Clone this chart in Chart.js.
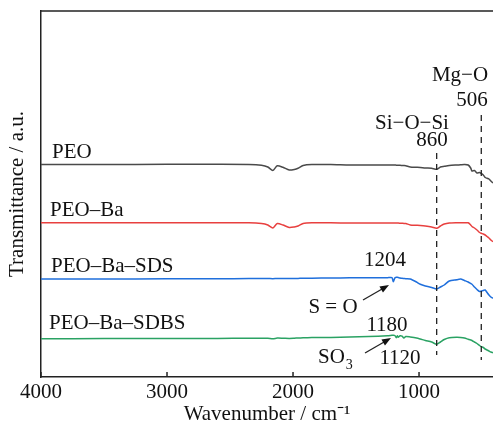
<!DOCTYPE html>
<html>
<head>
<meta charset="utf-8">
<script src="https://cdn.jsdelivr.net/npm/chart.js@4"></script>
<style>
html, body { margin: 0; padding: 0; background: #fff; overflow: hidden; }
</style>
</head>
<body>
<canvas id="ftirChart" width="493" height="426"></canvas>
<script>
// wavenumber grid (cm-1), shared by all four spectra
var wavenumbers = [4000, 3500, 3000, 2600, 2350, 2250, 2200, 2160, 2125, 2080, 2030, 1990, 1960, 1920, 1850, 1700, 1550, 1400, 1250, 1215, 1204, 1192, 1180, 1172, 1165, 1150, 1135, 1120, 1105, 1070, 1020, 990, 950, 900, 860, 830, 800, 760, 700, 670, 640, 610, 590, 580, 560, 540, 520, 506, 490, 475, 460, 445, 430, 413];

// transmittance, arbitrary units (curves are offset from each other)
var peo = [212.5, 212.5, 212.7, 212.7, 212.5, 211.7, 210, 206.5, 211.2, 209.7, 207, 207.5, 208.7, 211.5, 212.5, 212.5, 212, 212, 212, 212, 212, 212, 211.8, 211.8, 211.7, 211.7, 211.5, 211.4, 211.2, 210, 209.7, 209.5, 209, 208.7, 207.7, 210, 210.7, 211.5, 212, 212.2, 212.4, 212, 209, 206, 206.5, 204, 204.5, 203.5, 202, 199.5, 198.7, 198, 196, 194];
var peoBa = [154.3, 154.3, 154.3, 154.3, 154.2, 153.5, 152, 149, 153.5, 152, 149.5, 150, 151, 153.5, 154.2, 154.2, 154, 154, 154, 154, 154, 154, 154, 153.9, 153.9, 153.8, 153.7, 153.6, 153.5, 152, 151.7, 151.5, 151, 150, 148.7, 151, 153, 154, 154.3, 154.3, 154.3, 154.2, 152, 150.5, 149, 147, 144.5, 143.7, 143, 142, 140.5, 139, 137, 135.3];
var peoBaSds = [98, 98, 98.2, 98.3, 98.4, 98.5, 98.5, 98.3, 98.6, 98.5, 98.4, 98.5, 98.6, 98.8, 98.8, 99, 99.2, 99.3, 99.3, 99.3, 95.3, 99, 99.7, 99.7, 99.5, 99, 98.7, 98.5, 98.3, 98, 95, 92.7, 91, 89.5, 88, 90, 92, 96, 97.3, 98, 96.5, 95, 93.5, 92.7, 90, 87.5, 85.5, 86, 86.5, 87, 84.5, 82, 80, 78.7];
var peoBaSdbs = [38.3, 38.4, 38.5, 38.6, 38.8, 38.8, 38.8, 38.3, 38.9, 38.8, 38.6, 38.8, 39, 39.2, 39.4, 39.6, 40, 40.5, 41.3, 41.7, 41.8, 41.5, 39.3, 41.2, 39.8, 41.3, 40.8, 39, 40.5, 40, 39, 38, 36.5, 35, 32.7, 35, 37.5, 39.3, 39.7, 39.5, 39, 37.8, 37, 36.5, 35, 33.5, 31.5, 30.3, 29.5, 28, 27, 26, 25, 24.3];

var seriesNames = ['PEO', 'PEO–Ba', 'PEO–Ba–SDS', 'PEO–Ba–SDBS'];
var xTicks = [4000, 3000, 2000, 1000];
var markedBands = [860, 506];

var seriesData = [peo, peoBa, peoBaSds, peoBaSdbs];
var seriesColors = ['#4a4a4a', '#e8403f', '#1f6fdc', '#2aa263'];
var serif = '"Liberation Serif", "Times New Roman", serif';

function arrow(ctx, x1, y1, x2, y2) {
    var ang = Math.atan2(y2 - y1, x2 - x1);
    ctx.beginPath();
    ctx.moveTo(x1, y1);
    ctx.lineTo(x2 - 6 * Math.cos(ang), y2 - 6 * Math.sin(ang));
    ctx.stroke();
    ctx.beginPath();
    ctx.moveTo(x2, y2);
    ctx.lineTo(x2 - 9 * Math.cos(ang) + 3.5 * Math.sin(ang), y2 - 9 * Math.sin(ang) - 3.5 * Math.cos(ang));
    ctx.lineTo(x2 - 9 * Math.cos(ang) - 3.5 * Math.sin(ang), y2 - 9 * Math.sin(ang) + 3.5 * Math.cos(ang));
    ctx.closePath();
    ctx.fill();
}

var decorations = {
    id: 'decorations',
    afterDraw: function(chart) {
        var ctx = chart.ctx, a = chart.chartArea, xs = chart.scales.x;
        ctx.save();
        ctx.strokeStyle = '#222';
        ctx.fillStyle = '#111';
        ctx.lineWidth = 1.5;
        // top frame line
        ctx.beginPath();
        ctx.moveTo(a.left, a.top);
        ctx.lineTo(a.right, a.top);
        ctx.stroke();
        // inward ticks on the x axis
        xTicks.forEach(function(t) {
            var px = xs.getPixelForValue(t);
            ctx.beginPath();
            ctx.moveTo(px, a.bottom);
            ctx.lineTo(px, a.bottom - 5);
            ctx.stroke();
        });
        // dashed lines for the marked bands
        var dashTop = [153, 115], dashBottom = [355, 360];
        ctx.lineWidth = 1.3;
        ctx.setLineDash([6, 5]);
        markedBands.forEach(function(b, i) {
            var px = xs.getPixelForValue(b);
            ctx.beginPath();
            ctx.moveTo(px, dashTop[i]);
            ctx.lineTo(px, dashBottom[i]);
            ctx.stroke();
        });
        ctx.setLineDash([]);

        ctx.font = '21px ' + serif;
        ctx.textBaseline = 'middle';
        // series names
        ctx.textAlign = 'left';
        var nameY = [152, 210, 266, 323], nameX = [52, 50, 51, 49];
        seriesNames.forEach(function(n, i) {
            ctx.fillText(n, nameX[i], nameY[i]);
        });
        // band labels
        ctx.textAlign = 'center';
        ctx.fillText('Mg\u2212O', 460, 75);
        ctx.fillText(String(markedBands[1]), 472, 100);
        ctx.fillText('Si\u2212O\u2212Si', 412, 123);
        ctx.fillText(String(markedBands[0]), 432, 140);
        ctx.fillText('1204', 385, 260);
        ctx.fillText('S = O', 333, 307);
        ctx.fillText('1180', 387, 325);
        ctx.fillText('1120', 400, 358);
        ctx.textAlign = 'left';
        ctx.fillText('SO', 318, 357);
        var w = ctx.measureText('SO').width;
        ctx.font = '14px ' + serif;
        ctx.fillText('3', 318 + w + 1, 365);
        // arrows
        ctx.lineWidth = 1.3;
        arrow(ctx, 363, 300, 389, 285);
        arrow(ctx, 365, 353, 391, 338);
        ctx.restore();
    }
};

var ctx = document.getElementById('ftirChart').getContext('2d');
var ftirChart = new Chart(ctx, {
    type: 'line',
    data: {
        datasets: seriesData.map(function(vals, i) {
            return {
                label: seriesNames[i],
                data: wavenumbers.map(function(w, j) { return { x: w, y: vals[j] }; }),
                borderColor: seriesColors[i],
                borderWidth: 1.5,
                pointRadius: 0,
                tension: 0.25,
                fill: false
            };
        })
    },
    options: {
        responsive: false,
        animation: false,
        devicePixelRatio: 1,
        layout: { padding: { top: 11, left: 0, right: 0, bottom: 0 } },
        plugins: {
            legend: { display: false },
            tooltip: { enabled: false }
        },
        scales: {
            x: {
                type: 'linear',
                reverse: true,
                min: 413,
                max: 4000,
                afterBuildTicks: function(scale) {
                    scale.ticks = xTicks.map(function(v) { return { value: v }; });
                },
                afterFit: function(scale) { scale.height = 49; },
                grid: { display: false, drawTicks: false },
                border: { display: true, color: '#222', width: 1.5 },
                ticks: {
                    padding: 3,
                    maxRotation: 0,
                    color: '#111',
                    font: { family: serif, size: 21 },
                    callback: function(v) { return String(v); }
                },
                title: {
                    display: true,
                    text: 'Wavenumber / cm\u207B\u00B9',
                    color: '#111',
                    font: { family: serif, size: 21, lineHeight: 1 },
                    padding: { top: 0, bottom: 1 }
                }
            },
            y: {
                min: 0,
                max: 366,
                afterFit: function(scale) { scale.width = 41; },
                grid: { display: false, drawTicks: false },
                border: { display: true, color: '#222', width: 1.5 },
                ticks: { display: false },
                title: {
                    display: true,
                    text: 'Transmittance / a.u.',
                    color: '#111',
                    font: { family: serif, size: 21, lineHeight: 1 },
                    padding: { top: 7, bottom: 0 }
                }
            }
        }
    },
    plugins: [decorations]
});
</script>
</body>
</html>
